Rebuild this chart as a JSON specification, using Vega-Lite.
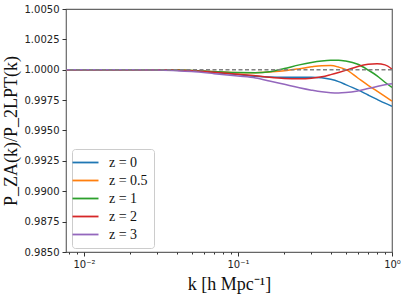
{
  "$schema": "https://vega.github.io/schema/vega-lite/v6.json",
  "width": 326,
  "height": 243,
  "autosize": "none",
  "padding": {"left": 66, "top": 9, "right": 15, "bottom": 47},
  "background": "white",
  "config": {
    "view": {"stroke": "#666666", "strokeWidth": 1.2},
    "axis": {"grid": false, "domain": false, "labelOverlap": false, "labelBound": false, "tickColor": "#333333", "labelColor": "#222222", "labelFont": "DejaVu Sans", "labelFontSize": 10, "titleFont": "Liberation Serif", "titleFontWeight": "normal", "titleFontSize": 18, "titleColor": "#111111"}
  },
  "datasets": {
    "curves": [
      {"k": 0.00764, "ratio": 1.0, "z": "z = 0"},
      {"k": 0.01, "ratio": 1.0, "z": "z = 0"},
      {"k": 0.02, "ratio": 1.0, "z": "z = 0"},
      {"k": 0.03, "ratio": 0.99999, "z": "z = 0"},
      {"k": 0.04, "ratio": 0.99996, "z": "z = 0"},
      {"k": 0.05, "ratio": 0.99991, "z": "z = 0"},
      {"k": 0.07, "ratio": 0.99978, "z": "z = 0"},
      {"k": 0.1, "ratio": 0.9996, "z": "z = 0"},
      {"k": 0.13, "ratio": 0.99947, "z": "z = 0"},
      {"k": 0.16, "ratio": 0.99941, "z": "z = 0"},
      {"k": 0.2, "ratio": 0.99939, "z": "z = 0"},
      {"k": 0.25, "ratio": 0.99939, "z": "z = 0"},
      {"k": 0.3, "ratio": 0.99939, "z": "z = 0"},
      {"k": 0.35, "ratio": 0.99934, "z": "z = 0"},
      {"k": 0.4, "ratio": 0.99921, "z": "z = 0"},
      {"k": 0.45, "ratio": 0.99902, "z": "z = 0"},
      {"k": 0.5, "ratio": 0.99878, "z": "z = 0"},
      {"k": 0.6, "ratio": 0.99834, "z": "z = 0"},
      {"k": 0.7, "ratio": 0.99792, "z": "z = 0"},
      {"k": 0.8, "ratio": 0.99756, "z": "z = 0"},
      {"k": 0.9, "ratio": 0.99725, "z": "z = 0"},
      {"k": 1.0, "ratio": 0.997, "z": "z = 0"},

      {"k": 0.00764, "ratio": 1.0, "z": "z = 0.5"},
      {"k": 0.01, "ratio": 1.0, "z": "z = 0.5"},
      {"k": 0.02, "ratio": 1.0, "z": "z = 0.5"},
      {"k": 0.03, "ratio": 0.99999, "z": "z = 0.5"},
      {"k": 0.04, "ratio": 0.99997, "z": "z = 0.5"},
      {"k": 0.05, "ratio": 0.99993, "z": "z = 0.5"},
      {"k": 0.07, "ratio": 0.99984, "z": "z = 0.5"},
      {"k": 0.1, "ratio": 0.99976, "z": "z = 0.5"},
      {"k": 0.13, "ratio": 0.99976, "z": "z = 0.5"},
      {"k": 0.16, "ratio": 0.99982, "z": "z = 0.5"},
      {"k": 0.2, "ratio": 0.99991, "z": "z = 0.5"},
      {"k": 0.25, "ratio": 1.00008, "z": "z = 0.5"},
      {"k": 0.3, "ratio": 1.00024, "z": "z = 0.5"},
      {"k": 0.35, "ratio": 1.00033, "z": "z = 0.5"},
      {"k": 0.4, "ratio": 1.00034, "z": "z = 0.5"},
      {"k": 0.45, "ratio": 1.00022, "z": "z = 0.5"},
      {"k": 0.5, "ratio": 1.00003, "z": "z = 0.5"},
      {"k": 0.6, "ratio": 0.99932, "z": "z = 0.5"},
      {"k": 0.7, "ratio": 0.99872, "z": "z = 0.5"},
      {"k": 0.8, "ratio": 0.99824, "z": "z = 0.5"},
      {"k": 0.9, "ratio": 0.99781, "z": "z = 0.5"},
      {"k": 1.0, "ratio": 0.99742, "z": "z = 0.5"},

      {"k": 0.00764, "ratio": 1.0, "z": "z = 1"},
      {"k": 0.01, "ratio": 1.0, "z": "z = 1"},
      {"k": 0.02, "ratio": 1.0, "z": "z = 1"},
      {"k": 0.03, "ratio": 0.99999, "z": "z = 1"},
      {"k": 0.04, "ratio": 0.99997, "z": "z = 1"},
      {"k": 0.05, "ratio": 0.99994, "z": "z = 1"},
      {"k": 0.07, "ratio": 0.99986, "z": "z = 1"},
      {"k": 0.1, "ratio": 0.99977, "z": "z = 1"},
      {"k": 0.13, "ratio": 0.99976, "z": "z = 1"},
      {"k": 0.16, "ratio": 0.99983, "z": "z = 1"},
      {"k": 0.2, "ratio": 1.0001, "z": "z = 1"},
      {"k": 0.25, "ratio": 1.0004, "z": "z = 1"},
      {"k": 0.3, "ratio": 1.0006, "z": "z = 1"},
      {"k": 0.35, "ratio": 1.00072, "z": "z = 1"},
      {"k": 0.4, "ratio": 1.00078, "z": "z = 1"},
      {"k": 0.45, "ratio": 1.00079, "z": "z = 1"},
      {"k": 0.5, "ratio": 1.00072, "z": "z = 1"},
      {"k": 0.6, "ratio": 1.00045, "z": "z = 1"},
      {"k": 0.7, "ratio": 0.99998, "z": "z = 1"},
      {"k": 0.8, "ratio": 0.9995, "z": "z = 1"},
      {"k": 0.9, "ratio": 0.99897, "z": "z = 1"},
      {"k": 1.0, "ratio": 0.99855, "z": "z = 1"},

      {"k": 0.00764, "ratio": 1.0, "z": "z = 2"},
      {"k": 0.01, "ratio": 1.0, "z": "z = 2"},
      {"k": 0.02, "ratio": 1.0, "z": "z = 2"},
      {"k": 0.03, "ratio": 0.99999, "z": "z = 2"},
      {"k": 0.04, "ratio": 0.99996, "z": "z = 2"},
      {"k": 0.05, "ratio": 0.99991, "z": "z = 2"},
      {"k": 0.07, "ratio": 0.99979, "z": "z = 2"},
      {"k": 0.1, "ratio": 0.99963, "z": "z = 2"},
      {"k": 0.13, "ratio": 0.99951, "z": "z = 2"},
      {"k": 0.16, "ratio": 0.99938, "z": "z = 2"},
      {"k": 0.2, "ratio": 0.99928, "z": "z = 2"},
      {"k": 0.25, "ratio": 0.99925, "z": "z = 2"},
      {"k": 0.3, "ratio": 0.9993, "z": "z = 2"},
      {"k": 0.35, "ratio": 0.99942, "z": "z = 2"},
      {"k": 0.4, "ratio": 0.9996, "z": "z = 2"},
      {"k": 0.45, "ratio": 0.99978, "z": "z = 2"},
      {"k": 0.5, "ratio": 0.99995, "z": "z = 2"},
      {"k": 0.6, "ratio": 1.00027, "z": "z = 2"},
      {"k": 0.7, "ratio": 1.00045, "z": "z = 2"},
      {"k": 0.8, "ratio": 1.0005, "z": "z = 2"},
      {"k": 0.9, "ratio": 1.0004, "z": "z = 2"},
      {"k": 1.0, "ratio": 1.00005, "z": "z = 2"},

      {"k": 0.00764, "ratio": 1.0, "z": "z = 3"},
      {"k": 0.01, "ratio": 1.0, "z": "z = 3"},
      {"k": 0.02, "ratio": 1.0, "z": "z = 3"},
      {"k": 0.03, "ratio": 0.99997, "z": "z = 3"},
      {"k": 0.04, "ratio": 0.99992, "z": "z = 3"},
      {"k": 0.05, "ratio": 0.99985, "z": "z = 3"},
      {"k": 0.07, "ratio": 0.99968, "z": "z = 3"},
      {"k": 0.1, "ratio": 0.99948, "z": "z = 3"},
      {"k": 0.13, "ratio": 0.99932, "z": "z = 3"},
      {"k": 0.16, "ratio": 0.99908, "z": "z = 3"},
      {"k": 0.2, "ratio": 0.9988, "z": "z = 3"},
      {"k": 0.25, "ratio": 0.99852, "z": "z = 3"},
      {"k": 0.3, "ratio": 0.99832, "z": "z = 3"},
      {"k": 0.35, "ratio": 0.99818, "z": "z = 3"},
      {"k": 0.4, "ratio": 0.99811, "z": "z = 3"},
      {"k": 0.45, "ratio": 0.99809, "z": "z = 3"},
      {"k": 0.5, "ratio": 0.99812, "z": "z = 3"},
      {"k": 0.6, "ratio": 0.99826, "z": "z = 3"},
      {"k": 0.7, "ratio": 0.99845, "z": "z = 3"},
      {"k": 0.8, "ratio": 0.99862, "z": "z = 3"},
      {"k": 0.9, "ratio": 0.99876, "z": "z = 3"},
      {"k": 1.0, "ratio": 0.99884, "z": "z = 3"}
    ],
    "reference": [{"ref": 1.0}]
  },
  "layer": [
    {
      "data": {"name": "curves"},
      "mark": {"type": "line", "strokeWidth": 1.5, "interpolate": "monotone", "clip": true},
      "encoding": {
        "x": {
          "field": "k", "type": "quantitative",
          "scale": {"type": "log", "domain": [0.00764, 1], "nice": false},
          "axis": {
            "orient": "bottom",
            "values": [0.01, 0.1, 1],
            "labelExpr": "datum.value < 0.05 ? '10⁻²' : datum.value < 0.5 ? '10⁻¹' : '10⁰'",
            "tickSize": 4,
            "labelPadding": 3,
            "labelFlush": false,
            "title": "k [h Mpc⁻¹]",
            "titlePadding": 6
          }
        },
        "y": {
          "field": "ratio", "type": "quantitative",
          "scale": {"domain": [0.985, 1.005], "nice": false, "zero": false},
          "axis": {
            "values": [0.985, 0.9875, 0.99, 0.9925, 0.995, 0.9975, 1.0, 1.0025, 1.005],
            "format": ".4f",
            "tickSize": 4,
            "labelPadding": 3,
            "labelOverlap": false,
            "title": "P_ZA(k)/P_2LPT(k)",
            "titlePadding": 4
          }
        },
        "color": {
          "field": "z", "type": "nominal",
          "scale": {"domain": ["z = 0", "z = 0.5", "z = 1", "z = 2", "z = 3"], "range": ["#1f77b4", "#ff7f0e", "#2ca02c", "#d62728", "#9467bd"]},
          "legend": {
            "title": null,
            "orient": "none",
            "legendX": 6,
            "legendY": 140,
            "symbolType": "M-2,0L2,0",
            "symbolSize": 169,
            "symbolStrokeWidth": 1.8,
            "labelFont": "Liberation Serif",
            "labelFontSize": 14,
            "labelColor": "#111111",
            "labelOffset": 16,
            "rowPadding": 3,
            "padding": 6,
            "strokeColor": "#cccccc",
            "fillColor": "white",
            "cornerRadius": 3
          }
        }
      }
    },
    {
      "data": {"name": "reference"},
      "mark": {"type": "rule", "color": "#808080", "strokeWidth": 1.3, "strokeDash": [4, 2.5]},
      "encoding": {
        "y": {
          "field": "ref", "type": "quantitative",
          "axis": {
            "values": [0.985, 0.9875, 0.99, 0.9925, 0.995, 0.9975, 1.0, 1.0025, 1.005],
            "format": ".4f",
            "tickSize": 4,
            "labelPadding": 3,
            "labelOverlap": false,
            "title": "P_ZA(k)/P_2LPT(k)",
            "titlePadding": 4
          }
        }
      }
    },
    {
      "data": {"name": "curves"},
      "mark": {"type": "point", "opacity": 0},
      "encoding": {
        "x": {
          "field": "k", "type": "quantitative",
          "axis": {
            "orient": "bottom",
            "values": [0.008, 0.009, 0.02, 0.03, 0.04, 0.05, 0.06, 0.07, 0.08, 0.09, 0.2, 0.3, 0.4, 0.5, 0.6, 0.7, 0.8, 0.9],
            "labels": false,
            "tickSize": 2,
            "title": null
          }
        }
      }
    }
  ],
  "resolve": {"axis": {"x": "independent"}}
}
